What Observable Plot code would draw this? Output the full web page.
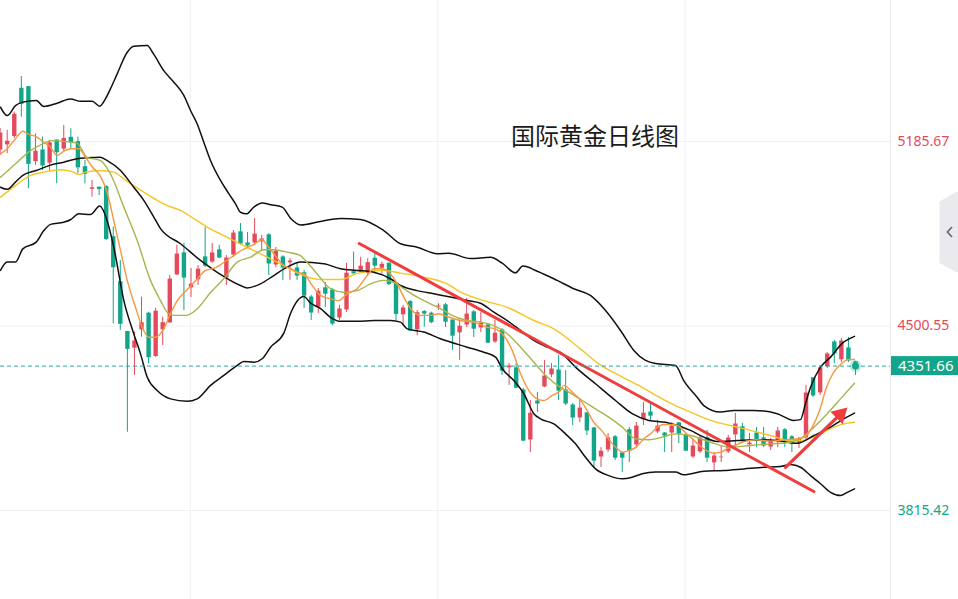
<!DOCTYPE html>
<html><head><meta charset="utf-8">
<script src="https://cdn.jsdelivr.net/npm/d3@7"></script>
<script src="https://cdn.jsdelivr.net/npm/@observablehq/plot@0.6"></script>
<style>
html,body{margin:0;padding:0;background:#fff;}
#chart svg{display:block;}
</style></head><body>
<div id="chart"></div>
<script>
// ---- data (candle index starts at -1) ----
const opens = [5152,5171,5202,5381,5387,5109,5152,5103,5189,5155,5199,
5183,5090,5006,5014,5016,4830,4663,4478,4416,4484,
4546,4385,4484,4510,4688,4770,4640,4670,4755,4736,
4781,4677,4762,4848,4807,4807,4811,4837,4725,4755,
4733,4714,4696,4606,4569,4640,4632,4528,4558,4700,
4699,4694,4750,4713,4732,4657,4540,4589,4484,4552,
4546,4569,4577,4521,4473,4502,4551,4491,4502,4439,
4484,4343,4343,4261,4075,4220,4272,4317,4335,4261,
4205,4157,4176,4120,4012,4038,4087,4027,4113,4057,
4150,4179,4105,4101,4101,4139,4094,4012,4031,4083,
3990,4009,4031,4094,4124,4057,4101,4083,4049,4068,
4113,4087,4064,4083,4306,4250,4347,4439,4373,4417,4365];
const highs = [5234,5227,5295,5427,5390,5214,5202,5189,5191,5245,5233,
5202,5115,5041,5014,5022,4868,4744,4478,4478,4608,
4552,4566,4533,4688,4800,4808,4714,4725,4866,4807,
4800,4762,4855,4881,4848,4900,4837,4844,4792,4762,
4751,4736,4707,4614,4640,4662,4640,4577,4733,4775,
4756,4750,4771,4738,4733,4663,4577,4595,4558,4558,
4552,4583,4584,4521,4521,4603,4558,4551,4510,4521,
4491,4361,4361,4269,4224,4254,4373,4361,4391,4335,
4213,4231,4179,4124,4049,4101,4094,4031,4124,4142,
4217,4213,4150,4105,4142,4142,4101,4083,4094,4113,
4031,4057,4094,4176,4139,4101,4124,4124,4083,4124,
4120,4094,4087,4280,4309,4354,4402,4447,4454,4458,4369];
const lows = [5134,5141,5196,5276,5010,5097,5078,5078,5029,5146,5159,
5066,5029,4979,4985,4818,4509,4484,4106,4317,4459,
4360,4384,4428,4510,4688,4558,4606,4651,4718,4733,
4751,4651,4755,4800,4792,4800,4781,4688,4718,4670,
4670,4670,4566,4521,4547,4569,4502,4521,4551,4695,
4699,4688,4694,4694,4651,4521,4502,4483,4465,4496,
4509,4558,4495,4410,4373,4495,4458,4476,4436,4436,
4317,4280,4269,4073,4031,4179,4272,4309,4224,4205,
4131,4142,4094,3971,3975,4031,4001,3957,3994,4046,
4131,4150,4101,4031,4031,4064,4035,4009,4027,3994,
3964,3994,4027,4049,4064,4031,4049,4049,4038,4049,
4049,4031,4046,4075,4235,4243,4343,4361,4365,4365,4317];
const closes = [5219,5189,5289,5326,5103,5152,5097,5183,5146,5199,5183,
5090,5066,5016,5010,4824,4719,4509,4416,4447,4515,
4385,4558,4515,4677,4770,4681,4658,4714,4725,4774,
4755,4755,4848,4807,4800,4844,4826,4733,4781,4718,
4744,4688,4614,4551,4632,4621,4510,4566,4699,4696,
4725,4738,4725,4732,4657,4546,4570,4484,4552,4547,
4515,4577,4517,4465,4502,4547,4491,4514,4439,4476,
4335,4354,4272,4075,4179,4213,4317,4343,4261,4213,
4161,4198,4113,4001,4038,4087,4012,4012,4038,4131,
4179,4168,4131,4094,4131,4101,4038,4057,4087,4012,
4020,4016,4087,4139,4075,4068,4075,4057,4075,4113,
4075,4064,4083,4254,4243,4347,4399,4399,4447,4373,4351.66];

const upperBand = [[-0.95,5313],[0,5282],[1.17,5319],[2.21,5332],[4.1,5338],[5.18,5316],[7.07,5328],[8.95,5344],[10.37,5335],[12.02,5335],[13.1,5317],[13.9,5344],[14.6,5381],[15.56,5437],[16.98,5517],[17.9,5539],[19.8,5542],[20.7,5511],[22.15,5449],[23.57,5406],[24.98,5357],[25.93,5301],[26.88,5251],[27.81,5183],[28.76,5115],[30.17,5041],[31.35,4992],[32.3,4954],[33.0,4923],[33.85,4917],[34.88,4942],[36.07,4957],[37.25,4951],[38.9,4942],[40.08,4901],[41.5,4876],[44.3,4889],[47.15,4900],[49.98,4896],[53.27,4855],[55.64,4806],[58.0,4793],[60.83,4769],[62.47,4771],[65.54,4751],[68.37,4756],[70.03,4734],[71.9,4698],[72.94,4723],[74.98,4704],[77.8,4670],[80.15,4639],[82.5,4614],[84.64,4558],[86.76,4484],[88.64,4410],[90.3,4373],[91.71,4361],[94.54,4354],[95.7,4298],[97.6,4236],[98.54,4205],[100.9,4181],[102.78,4187],[105.62,4187],[108.93,4175],[111.27,4150],[112.22,4153],[112.93,4213],[113.64,4273],[115.05,4348],[116.47,4385],[118.12,4436],[119.86,4462]];
const middleBand = [[-0.95,5016],[0,5008],[1.17,5035],[2.21,5060],[4.1,5078],[6.03,5097],[8.0,5109],[9.9,5122],[11.3,5125],[13.1,5127],[14.15,5115],[16.03,5078],[17.9,5016],[19.32,4967],[20.74,4905],[21.69,4862],[24.52,4806],[27.34,4744],[29.71,4700],[33.0,4651],[33.95,4642],[35.83,4657],[37.71,4688],[39.6,4719],[41.49,4738],[44.79,4732],[47.15,4713],[49.51,4707],[51.86,4700],[54.22,4676],[55.64,4651],[58.0,4632],[60.35,4620],[62.71,4608],[65.07,4595],[66.95,4585],[68.84,4552],[70.73,4521],[72.62,4484],[74.5,4447],[76.39,4422],[78.27,4403],[80.39,4348],[83.22,4286],[86.05,4224],[88.41,4175],[90.76,4150],[93.12,4143],[96.66,4113],[98.54,4088],[100.44,4072],[103.27,4075],[106.1,4078],[108.93,4075],[111.76,4065],[114.11,4094],[116.47,4125],[118.35,4156],[119.86,4177]];
const lowerBand = [[-0.95,4707],[0,4738],[1.17,4738],[2.21,4787],[4.1,4812],[5.18,4855],[6.13,4878],[8.0,4886],[8.95,4895],[10.13,4917],[11.78,4915],[13.1,4946],[14.05,4899],[15.08,4793],[16.5,4595],[17.9,4472],[18.86,4397],[19.8,4311],[21.22,4261],[23.1,4230],[25.46,4221],[26.88,4230],[28.76,4280],[30.64,4317],[32.54,4354],[33.47,4369],[34.88,4366],[36.07,4379],[37.25,4422],[39.13,4474],[40.08,4547],[41.96,4610],[42.9,4586],[44.3,4566],[45.73,4533],[47.15,4518],[49.51,4518],[51.86,4521],[54.22,4521],[55.64,4515],[56.58,4490],[58.93,4478],[61.29,4453],[65.07,4422],[67.42,4403],[69.08,4385],[70.03,4342],[71.67,4298],[73.08,4249],[74.5,4175],[75.44,4156],[77.32,4137],[78.98,4100],[80.39,4063],[81.81,4013],[83.22,3970],[85.1,3945],[87.0,3933],[88.41,3939],[89.83,3952],[91.71,3958],[94.54,3958],[95.71,3948],[98.54,3961],[101.37,3964],[104.2,3970],[107.03,3976],[109.39,3979],[110.81,3986],[112.22,3976],[113.64,3945],[115.05,3915],[116.47,3883],[117.88,3871],[118.83,3883],[119.86,3896]];
const ma5 = [[-0.95,5140],[0,5159],[1.17,5196],[2.21,5224],[3.06,5212],[4.1,5204],[5.18,5183],[6.03,5167],[7.07,5134],[8.15,5152],[9.05,5159],[10.13,5159],[11.08,5127],[12.07,5090],[13.1,5060],[14.05,5004],[15.08,4892],[16.13,4769],[16.98,4670],[18.15,4570],[19.1,4496],[20.03,4459],[20.98,4459],[22.01,4484],[23.0,4540],[24.05,4595],[25.08,4626],[26.03,4651],[27.1,4682],[28.05,4707],[29.0,4713],[30.03,4725],[31.02,4744],[32.06,4762],[33.1,4781],[34.04,4793],[35.03,4806],[36.07,4821],[37.0,4793],[38.1,4756],[39.13,4725],[40.18,4713],[41.1,4700],[41.96,4694],[43.15,4651],[44.3,4614],[45.73,4602],[46.9,4595],[48.1,4620],[49.51,4639],[50.93,4688],[51.86,4713],[53.05,4713],[53.98,4700],[55.17,4657],[56.1,4608],[57.29,4558],[58.46,4540],[59.88,4540],[61.05,4546],[62.24,4536],[64.13,4521],[66.0,4515],[67.9,4496],[69.08,4490],[70.25,4465],[71.44,4410],[72.62,4323],[73.8,4261],[74.98,4230],[75.91,4224],[77.1,4243],[78.27,4261],[78.74,4280],[79.93,4255],[80.96,4230],[81.91,4193],[82.98,4143],[84.07,4113],[85.02,4082],[86.05,4051],[87.09,4032],[87.94,4038],[88.98,4051],[90.06,4082],[91.0,4100],[91.95,4125],[92.89,4135],[93.98,4135],[94.87,4131],[95.86,4106],[96.9,4082],[97.94,4057],[98.93,4038],[99.96,4028],[101.0,4032],[101.85,4045],[102.93,4057],[103.98,4069],[104.91,4075],[105.96,4078],[107.88,4073],[109.96,4078],[111.84,4082],[112.79,4088],[113.88,4125],[114.91,4187],[115.9,4273],[116.93,4329],[117.98,4360],[118.97,4376],[119.86,4376]];
const ma10 = [[-0.95,5053],[1.17,5103],[3.3,5152],[5.18,5179],[6.13,5189],[8.0,5186],[9.9,5179],[11.3,5127],[13.2,5115],[14.6,5066],[16.5,4942],[18.39,4818],[20.27,4670],[21.69,4595],[22.63,4552],[23.57,4540],[25.22,4540],[26.88,4564],[28.76,4625],[30.64,4676],[32.54,4738],[34.42,4756],[36.3,4784],[37.71,4784],[39.6,4775],[41.49,4762],[41.96,4750],[43.85,4694],[45.73,4639],[47.62,4626],[49.51,4632],[51.39,4657],[53.27,4670],[54.69,4663],[56.1,4639],[58.0,4608],[59.88,4583],[61.76,4558],[62.71,4543],[65.07,4521],[66.95,4515],[68.84,4502],[70.73,4472],[72.62,4422],[74.5,4366],[76.39,4311],[78.27,4273],[79.45,4255],[81.34,4224],[83.22,4193],[85.1,4162],[87.0,4125],[88.88,4082],[90.76,4078],[92.66,4088],[94.54,4100],[96.66,4094],[99.49,4069],[102.32,4051],[105.15,4057],[107.98,4063],[110.81,4069],[112.22,4082],[114.11,4125],[116.0,4175],[117.88,4230],[119.86,4288]];
const ma30 = [[-0.95,4979],[1.17,5022],[3.3,5060],[5.18,5072],[7.54,5081],[9.2,5074],[10.13,5063],[11.08,5072],[13.2,5078],[15.08,5072],[16.5,5047],[17.9,5022],[19.32,4998],[21.22,4967],[22.63,4948],[24.52,4930],[26.4,4899],[28.29,4868],[31.12,4830],[33.95,4793],[36.78,4756],[39.13,4725],[41.49,4692],[44.3,4673],[47.15,4673],[49.51,4696],[53.27,4707],[55.64,4697],[58.93,4682],[62.24,4657],[64.13,4626],[67.42,4595],[70.73,4570],[74.5,4521],[77.32,4490],[81.34,4410],[83.69,4360],[87.0,4311],[89.83,4273],[92.66,4230],[94.54,4205],[96.66,4181],[99.49,4150],[102.32,4131],[105.15,4113],[107.98,4094],[110.81,4075],[112.22,4075],[115.05,4100],[116.93,4125],[118.83,4140],[119.86,4143]];

const trendLine = [[49.8,4807],[114.1,3886]];
const arrowShaft = [[110.1,3976],[117.5,4164]];
const arrowHead = [[117.83,4172]];

const priceTicksUp = [5185.67, 4500.55];
const priceTicksDown = [3815.42];
const timeTicks = [25.9, 60.9, 95.9];
const lastPrice = 4351.66;

// ---- build ----
const candles = opens.map((o,k)=>({i:k-1, open:o, high:highs[k], low:lows[k], close:closes[k]}));
const ups = candles.filter(d=>d.close>=d.open);
const downs = candles.filter(d=>d.close<d.open);
const lastCandle = candles[candles.length-1];

const RED = "#e34a5b", GREEN = "#13a58a", TEAL_LINE = "#2aa89a";
const xDomain = [-0.948, 124.95];
const yDomain = [3485.0, 5709.3];
const P = d => d[0], V = d => d[1];

const lineMark = (data, stroke, w) => Plot.line(data, {x: P, y: V, stroke, strokeWidth: w, curve: "monotone-x"});

const chart = Plot.plot({
  width: 958, height: 599,
  marginLeft: 0, marginRight: 68, marginTop: 0, marginBottom: 0,
  x: {domain: xDomain, axis: null},
  y: {domain: yDomain, axis: null},
  style: {background: "#fff", overflow: "hidden"},
  marks: [
    Plot.gridY([...priceTicksUp, ...priceTicksDown], {stroke: "#eff0f3", strokeOpacity: 1}),
    Plot.gridX(timeTicks, {stroke: "#eff0f3", strokeOpacity: 1}),
    Plot.ruleX([xDomain[1]], {stroke: "#e9eaee", strokeWidth: 1}),
    Plot.ruleX(ups, {x: "i", y1: "low", y2: "high", stroke: RED, strokeWidth: 1}),
    Plot.ruleX(downs, {x: "i", y1: "low", y2: "high", stroke: GREEN, strokeWidth: 1}),
    Plot.ruleX(ups, {x: "i", y1: "open", y2: "close", stroke: RED, strokeWidth: 4.4, insetTop: -0.6, insetBottom: -0.6}),
    Plot.ruleX(downs, {x: "i", y1: "open", y2: "close", stroke: GREEN, strokeWidth: 4.4, insetTop: -0.6, insetBottom: -0.6}),
    lineMark(upperBand, "#111", 1.5),
    lineMark(lowerBand, "#111", 1.5),
    lineMark(ma30, "#f6c523", 1.4),
    lineMark(middleBand, "#111", 1.5),
    lineMark(ma10, "#a4b64c", 1.4),
    lineMark(ma5, "#f7973f", 1.4),
    Plot.line(trendLine, {x: P, y: V, stroke: "#f03c3c", strokeWidth: 3}),
    Plot.line(arrowShaft, {x: P, y: V, stroke: "#f03c3c", strokeWidth: 3.2}),
    Plot.dot(arrowHead, {x: P, y: V, symbol: "triangle", r: 6.5, fill: "#f03c3c", rotate: 46}),
    Plot.ruleY([lastPrice], {stroke: TEAL_LINE, strokeWidth: 1, strokeDasharray: "4,3"}),
    Plot.dot([lastCandle], {x: "i", y: "close", r: 6, fill: GREEN, fillOpacity: 0.25}),
    Plot.dot([lastCandle], {x: "i", y: "close", r: 3.5, fill: GREEN}),
    Plot.text(priceTicksUp, {y: d=>d, text: d=>d.toFixed(2), frameAnchor: "right", dx: 7, textAnchor: "start", fill: RED, fontSize: 14, fontFamily: "Noto Sans"}),
    Plot.text(priceTicksDown, {y: d=>d, text: d=>d.toFixed(2), frameAnchor: "right", dx: 7, textAnchor: "start", fill: GREEN, fontSize: 14, fontFamily: "Noto Sans"})
  ]
});
document.getElementById("chart").appendChild(chart);

// overlays positioned with the plot's own scales
const svg = d3.select(chart);
const yc = chart.scale("y").apply(lastPrice);
svg.append("rect").attr("x", 891).attr("y", yc - 9.5).attr("width", 67).attr("height", 19).attr("fill", GREEN);
svg.append("text").attr("x", 898).attr("y", yc).attr("dy", "0.36em").attr("fill", "#fff")
  .attr("text-anchor", "start")
  .attr("font-family", "Noto Sans").attr("font-size", 15).text(lastPrice.toFixed(2));
// side tab
svg.append("path").attr("d", "M958,192 L956,192 L939.5,201.5 L939.5,263 L956,272 L958,272 Z").attr("fill", "#e9e9ee");
svg.append("path").attr("d", "M952,227 L947.5,232 L952,237").attr("fill", "none").attr("stroke", "#6b6f7a").attr("stroke-width", 1.8);
// title
svg.append("text").attr("x", 511).attr("y", 144.5).attr("text-anchor", "start").attr("font-family", "Noto Sans CJK SC")
  .attr("font-size", 24).attr("fill", "#1b1b1b").text("国际黄金日线图");
</script>
</body></html>
